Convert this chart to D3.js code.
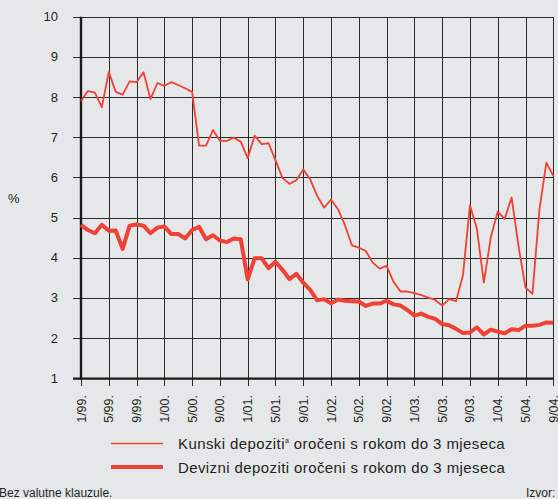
<!DOCTYPE html>
<html>
<head>
<meta charset="utf-8">
<script src="https://cdn.jsdelivr.net/npm/d3@7"></script>
<style>
  body { margin: 0; background: #e6e7e9; }
  svg { display: block; font-family: "Liberation Sans", Arial, sans-serif; }
  .grid line { stroke: #2a2a2a; stroke-width: 1; shape-rendering: crispEdges; }
  .grid .domain { display: none; }
</style>
</head>
<body>
<svg width="558" height="499"></svg>
<script>
// monthly, 1/99 .. 9/04
const tickLabels = ['1/99.', '5/99.', '9/99.', '1/00.', '5/00.', '9/00.', '1/01.', '5/01.', '9/01.',
    '1/02.', '5/02.', '9/02.', '1/03.', '5/03.', '9/03.', '1/04.', '5/04.', '9/04.'];
const yTicks = [1, 2, 3, 4, 5, 6, 7, 8, 9, 10];

const kunski = [7.90, 8.15, 8.11, 7.75, 8.62, 8.13, 8.06, 8.39, 8.37, 8.62, 7.95, 8.35,
    8.28, 8.37, 8.30, 8.22, 8.13, 6.79, 6.79, 7.18, 6.91, 6.91, 6.99, 6.89,
    6.48, 7.04, 6.83, 6.85, 6.43, 5.99, 5.84, 5.93, 6.20, 5.95, 5.54, 5.25,
    5.45, 5.21, 4.81, 4.31, 4.25, 4.17, 3.88, 3.73, 3.80, 3.40, 3.16, 3.16,
    3.12, 3.07, 3.01, 2.95, 2.81, 2.97, 2.92, 3.57, 5.31, 4.72, 3.38, 4.51,
    5.15, 4.97, 5.50, 4.28, 3.26, 3.10, 5.19, 6.37, 6.04];

const devizni = [4.82, 4.69, 4.61, 4.82, 4.67, 4.68, 4.22, 4.80, 4.83, 4.80, 4.61, 4.75,
    4.78, 4.59, 4.59, 4.48, 4.69, 4.77, 4.46, 4.56, 4.43, 4.39, 4.48, 4.46,
    3.46, 3.99, 3.99, 3.74, 3.90, 3.70, 3.47, 3.60, 3.38, 3.20, 2.94, 2.97,
    2.87, 2.96, 2.93, 2.92, 2.91, 2.80, 2.86, 2.86, 2.93, 2.84, 2.81, 2.70,
    2.56, 2.61, 2.53, 2.48, 2.35, 2.32, 2.23, 2.13, 2.14, 2.27, 2.09, 2.21,
    2.16, 2.12, 2.22, 2.20, 2.31, 2.31, 2.33, 2.39, 2.38];

const red = '#ef4135';
const svg = d3.select('svg');

const xScale = d3.scaleLinear().domain([0, kunski.length - 1]).range([81, 553.3]);
const yScale = d3.scaleLinear().domain([1, 10]).range([378.3, 16.7]);
const tickIdx = tickLabels.map((d, i) => i * 4);

// horizontal grid + left ticks
svg.append('g')
    .attr('class', 'grid')
    .attr('transform', 'translate(81,0)')
    .call(d3.axisLeft(yScale).tickValues(yTicks).tickSize(8).tickFormat(''))
    .call(g => g.selectAll('.tick line').attr('x2', 553.3 - 81 + 0.5).attr('x1', -8));

// vertical grid + bottom ticks
svg.append('g')
    .attr('class', 'grid')
    .attr('transform', 'translate(0,378.3)')
    .call(d3.axisBottom(xScale).tickValues(tickIdx).tickSize(8).tickFormat(''))
    .call(g => g.selectAll('.tick line').attr('y1', 16.7 - 378.3).attr('y2', 8));

// y labels
svg.append('g').selectAll('text')
    .data(yTicks)
    .join('text')
    .attr('x', 58)
    .attr('y', d => yScale(d) + 4.5)
    .attr('text-anchor', 'end')
    .attr('font-size', 13)
    .attr('fill', '#231f20')
    .text(d => d);

svg.append('text')
    .attr('x', 8).attr('y', 203)
    .attr('font-size', 13)
    .attr('fill', '#231f20')
    .text('%');

// x labels, rotated
svg.append('g').selectAll('text')
    .data(tickLabels)
    .join('text')
    .attr('transform', (d, i) => `translate(${xScale(i * 4) + 4.5},395) rotate(-90)`)
    .attr('text-anchor', 'end')
    .attr('font-size', 12.5)
    .attr('fill', '#231f20')
    .text(d => d);

// axes lines
svg.append('line')
    .attr('x1', 81).attr('x2', 81).attr('y1', 16.7).attr('y2', 379.5)
    .attr('stroke', '#1a1a1a').attr('stroke-width', 2.4);
svg.append('line')
    .attr('x1', 73).attr('x2', 554).attr('y1', 378.6).attr('y2', 378.6)
    .attr('stroke', '#1a1a1a').attr('stroke-width', 2.4);

const line = d3.line()
    .x((d, i) => xScale(i))
    .y(d => yScale(d));

svg.append('path')
    .attr('fill', 'none')
    .attr('stroke', red)
    .attr('stroke-width', 1.8)
    .attr('stroke-linejoin', 'round')
    .attr('d', line(kunski));

svg.append('path')
    .attr('fill', 'none')
    .attr('stroke', red)
    .attr('stroke-width', 4)
    .attr('stroke-linejoin', 'round')
    .attr('d', line(devizni));

// legend
const legend = svg.append('g');
legend.append('line')
    .attr('x1', 111).attr('x2', 163).attr('y1', 443.5).attr('y2', 443.5)
    .attr('stroke', red).attr('stroke-width', 1.5);
legend.append('line')
    .attr('x1', 111).attr('x2', 163).attr('y1', 467).attr('y2', 467)
    .attr('stroke', red).attr('stroke-width', 4);

const t1 = legend.append('text')
    .attr('x', 178).attr('y', 449)
    .attr('font-size', 15)
    .attr('letter-spacing', 0.4)
    .attr('fill', '#231f20');
t1.append('tspan').text('Kunski depoziti');
t1.append('tspan').attr('dy', -6).attr('font-size', 7).text('a');
t1.append('tspan').attr('dy', 6).text(' oročeni s rokom do 3 mjeseca');

legend.append('text')
    .attr('x', 178).attr('y', 473)
    .attr('font-size', 15)
    .attr('letter-spacing', 0.4)
    .attr('fill', '#231f20')
    .text('Devizni depoziti oročeni s rokom do 3 mjeseca');

svg.append('text')
    .attr('x', -1).attr('y', 497)
    .attr('font-size', 12)
    .attr('fill', '#231f20')
    .text('Bez valutne klauzule.');

svg.append('text')
    .attr('x', 526).attr('y', 497)
    .attr('font-size', 12)
    .attr('fill', '#231f20')
    .text('Izvor:');
</script>
</body>
</html>
